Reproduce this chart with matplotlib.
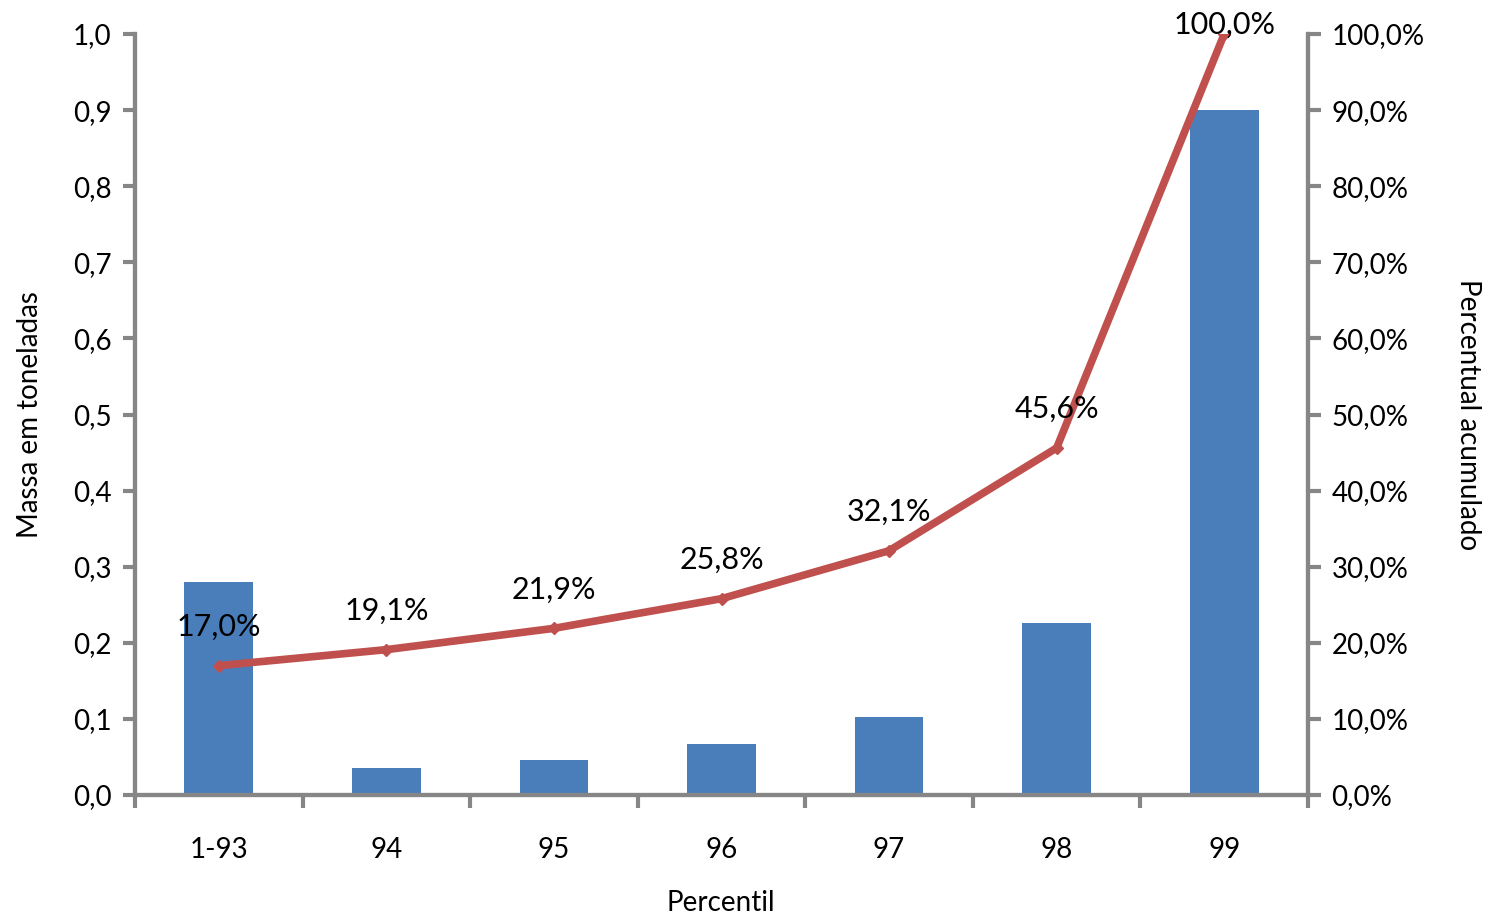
import matplotlib.pyplot as plt
import numpy as np

categories = ["1-93", "94", "95", "96", "97", "98", "99"]
mass_t = [0.28, 0.035, 0.046, 0.067, 0.103, 0.226, 0.90]
cum_pct = [17.0, 19.1, 21.9, 25.8, 32.1, 45.6, 100.0]

plt.rcParams["font.family"] = ["Lato", "DejaVu Sans"]
spine_gray = "#868686"


def fmt_br(v, decimals=1, suffix=""):
    return f"{v:.{decimals}f}".replace(".", ",") + suffix


def main():
    fig = plt.figure(figsize=(14.88, 9.18), dpi=100)
    ax = fig.add_axes([135 / 1488, 1 - 795 / 918, (1308 - 135) / 1488, (795 - 34) / 918])
    ax2 = ax.twinx()

    x = np.arange(len(categories))
    ax.bar(x, mass_t, width=0.41, color="#4A7EBB", zorder=2)
    ax.set_xlim(-0.5, len(categories) - 0.5)
    ax.set_ylim(0, 1.0)
    ax.set_yticks(np.arange(0, 1.01, 0.1))
    ax.set_yticklabels([fmt_br(v) for v in np.arange(0, 1.01, 0.1)], fontsize=20)

    ax.set_xticks(x)
    ax.set_xticklabels(categories, fontsize=20)
    ax.set_xticks(np.arange(-0.5, len(categories), 1.0), minor=True)
    ax.tick_params(axis="x", which="major", length=0, pad=30)
    ax.tick_params(axis="x", which="minor", length=9, width=3, color=spine_gray)
    ax.tick_params(axis="y", length=9, width=3, color=spine_gray, pad=8)

    ax2.plot(x, cum_pct, color="#C0504D", linewidth=5.5, marker="D",
             markersize=6, zorder=3, solid_capstyle="round")
    ax2.set_ylim(0, 100)
    ticks2 = np.arange(0, 101, 10)
    ax2.set_yticks(ticks2)
    ax2.set_yticklabels([fmt_br(v, 1, "%") for v in ticks2], fontsize=20)
    ax2.tick_params(axis="y", length=9, width=3, color=spine_gray, pad=8)

    for xi, v in zip(x, cum_pct):
        yt = min(v + 5.1, 101.2)
        ax2.text(xi, yt, fmt_br(v, 1, "%"), ha="center", va="center",
                 fontsize=22, clip_on=False, zorder=4)

    for a in (ax, ax2):
        a.spines["top"].set_visible(False)
        for side in ("left", "right", "bottom"):
            a.spines[side].set_color(spine_gray)
            a.spines[side].set_linewidth(3)
    ax.set_zorder(ax2.get_zorder() - 1)
    ax2.patch.set_visible(False)

    fig.text(30 / 1488, 1 - 415 / 918, "Massa em toneladas", rotation=90,
             ha="center", va="center", fontsize=20)
    fig.text(1468 / 1488, 1 - 415 / 918, "Percentual acumulado", rotation=-90,
             ha="center", va="center", fontsize=20)
    fig.text(721 / 1488, 1 - 903 / 918, "Percentil", ha="center", va="center",
             fontsize=20)

    fig.savefig("out.png", dpi=100)


if __name__ == "__main__":
    main()
